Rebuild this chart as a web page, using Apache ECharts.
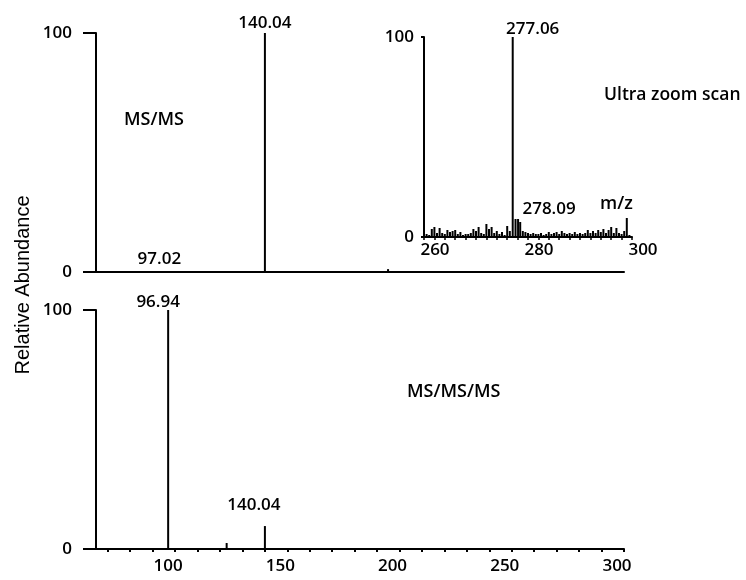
<!DOCTYPE html>
<html><head><meta charset="utf-8">
<script src="https://cdn.jsdelivr.net/npm/echarts@6/dist/echarts.min.js"></script>
<style>html,body{margin:0;padding:0;background:#fff}#c{width:746px;height:580px}</style>
</head><body><div id="c"></div>
<script>
// ---- data (m/z, relative abundance %) ----
const topMz = [97.02, 140.04, 194.9];
const topAbund = [0.3, 100, 1.2];
const topLabels = ['97.02', '140.04', ''];

const botMz = [96.94, 123.0, 140.04];
const botAbund = [100, 2.5, 9.6];
const botLabels = ['96.94', '', '140.04'];

const insetMz = [260.5,261.0,261.5,262.0,262.5,263.0,263.5,264.0,264.5,265.0,265.5,266.0,266.5,267.0,267.5,268.0,268.5,269.0,269.5,270.0,270.5,271.0,271.5,272.0,272.5,273.0,273.5,274.0,274.5,275.0,275.5,276.0,276.5,277.06,277.6,278.09,278.5,279.0,279.5,280.0,280.5,281.0,281.5,282.0,282.5,283.0,283.5,284.0,284.5,285.0,285.5,286.0,286.5,287.0,287.5,288.0,288.5,289.0,289.5,290.0,290.5,291.0,291.5,292.0,292.5,293.0,293.5,294.0,294.5,295.0,295.5,296.0,296.5,297.0,297.5,298.0,298.5,299.0,299.5];
const insetAbund = [1.5,1,4,5,2,4.5,2,1.5,3.5,2.5,3,3.5,1.5,2.5,1,1.5,1.5,2,4,3,5,2,1.5,6.5,4,5,2,3,1.5,2.5,1,5.5,3,100,9,9,7.5,3,2.5,2,1.5,2,1.5,1.5,2,1,1.5,2.5,1.5,2,2.5,1.5,3,2,1.5,2,1.5,2.5,1.5,2,1.5,2,3.5,2,3,2,3.5,2.5,4,2,3.5,5,2,4.5,2,1.5,3,9.5,1];
const insetLabelled = ['277.06', '278.09'];

const mainXTicks = [70,80,90,100,110,120,130,140,150,160,170,180,190,200,210,220,230,240,250,260,270,280,290,300];
const mainXLabels = [100,150,200,250,300];

// ---- styling ----
const FONT = 'Open Sans';
const WEIGHT = 600;
const BLACK = '#000';
const labelOffsetTop = {'97.02': [-9, -2], '140.04': [0, 1]};
const labelOffsetBot = {'96.94': [-10, 3], '140.04': [-11, -10]};
const labelOffsetInset = {'277.06': [20, 3], '278.09': [31, 1]};

function items(xs, ys, labels, offsets) {
  return xs.map((x, i) => {
    const it = {value: [x, ys[i]]};
    const lab = labels[i];
    if (lab) {
      it.label = {show: true, position: 'top', distance: 2, formatter: lab,
        offset: offsets[lab] || [0, 0], color: BLACK, fontFamily: FONT, fontWeight: WEIGHT, fontSize: 17};
    }
    return it;
  });
}

const axisLine = {show: true, onZero: false, lineStyle: {color: BLACK, width: 2}};
function yAxisMain(gi) {
  return {gridIndex: gi, type: 'value', min: 0, max: 100, interval: 100,
    axisLine: axisLine, axisTick: {show: true, length: 13, lineStyle: {color: BLACK, width: 2}},
    axisLabel: {margin: 24, color: BLACK, fontFamily: FONT, fontWeight: WEIGHT, fontSize: 17},
    splitLine: {show: false}};
}

const option = {
  animation: false,
  backgroundColor: '#fff',
  grid: [
    {left: 96, top: 33, width: 528, height: 239, outerBoundsMode: 'none', containLabel: false},
    {left: 96, top: 310, width: 528, height: 239, outerBoundsMode: 'none', containLabel: false},
    {left: 424, top: 37, width: 208, height: 200, outerBoundsMode: 'none', containLabel: false}
  ],
  xAxis: [
    {gridIndex: 0, type: 'value', min: 64.8, max: 300, axisLine: axisLine,
      axisTick: {show: false}, axisLabel: {show: false}, splitLine: {show: false}},
    {gridIndex: 1, type: 'value', min: 64.8, max: 300, axisLine: axisLine,
      axisTick: {show: true, customValues: mainXTicks, length: 3, lineStyle: {color: BLACK, width: 2}},
      axisLabel: {customValues: mainXLabels, margin: 9, color: BLACK, fontFamily: FONT, fontWeight: WEIGHT, fontSize: 17, padding: [0, 14, 0, 0]},
      splitLine: {show: false}},
    {gridIndex: 2, type: 'value', min: 260, max: 300, interval: 20, axisLine: axisLine,
      axisTick: {show: true, length: 3, lineStyle: {color: BLACK, width: 1.5}},
      minorTick: {show: true, splitNumber: 10, length: 3, lineStyle: {color: BLACK, width: 1.5}},
      axisLabel: {margin: 5, color: BLACK, fontFamily: FONT, fontWeight: WEIGHT, fontSize: 17, padding: [0, 0, 0, 22]},
      splitLine: {show: false}, minorSplitLine: {show: false}}
  ],
  yAxis: [
    yAxisMain(0),
    yAxisMain(1),
    {gridIndex: 2, type: 'value', min: 0, max: 100, interval: 100, axisLine: axisLine,
      axisTick: {show: true, length: 3, lineStyle: {color: BLACK, width: 2}},
      axisLabel: {margin: 10, color: BLACK, fontFamily: FONT, fontWeight: WEIGHT, fontSize: 17},
      splitLine: {show: false}}
  ],
  series: [
    {type: 'bar', xAxisIndex: 0, yAxisIndex: 0, barWidth: 2, itemStyle: {color: BLACK},
      data: items(topMz, topAbund, topLabels, labelOffsetTop)},
    {type: 'bar', xAxisIndex: 1, yAxisIndex: 1, barWidth: 2, itemStyle: {color: BLACK},
      data: items(botMz, botAbund, botLabels, labelOffsetBot)},
    {type: 'bar', xAxisIndex: 2, yAxisIndex: 2, barWidth: 2, itemStyle: {color: BLACK},
      data: items(insetMz, insetAbund, insetMz.map(v => insetLabelled.includes(v.toFixed(2)) ? v.toFixed(2) : ''), labelOffsetInset)}
  ],
  graphic: [
    {type: 'text', left: 124, top: 111, style: {text: 'MS/MS', fill: BLACK, font: '600 18px "Open Sans"'}},
    {type: 'text', left: 604, top: 86, style: {text: 'Ultra zoom scan', fill: BLACK, font: '600 17.5px "Open Sans"'}},
    {type: 'text', left: 600, top: 195, style: {text: 'm/z', fill: BLACK, font: '600 18px "Open Sans"'}},
    {type: 'text', left: 407, top: 383, style: {text: 'MS/MS/MS', fill: BLACK, font: '600 18px "Open Sans"'}},
    {type: 'text', x: 23, y: 285, rotation: Math.PI / 2,
      style: {text: 'Relative Abundance', fill: BLACK, font: '20px "Liberation Sans"', textAlign: 'center', textVerticalAlign: 'middle'}}
  ]
};

const chart = echarts.init(document.getElementById('c'), null, {renderer: 'canvas'});
chart.setOption(option);
</script>
</body></html>
